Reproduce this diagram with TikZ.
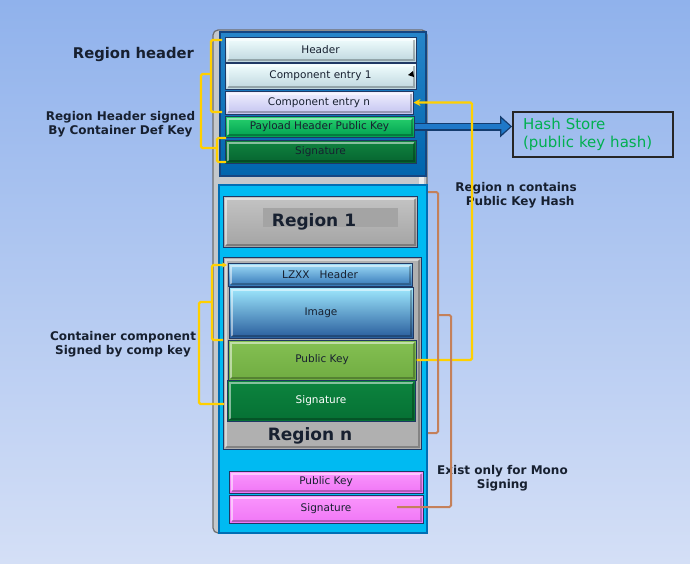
\documentclass[tikz,border=0pt]{standalone}
\usepackage{fontspec}
\setmainfont{DejaVu Sans}
\usetikzlibrary{arrows.meta}
\definecolor{bgtop}{RGB}{144,178,236}
\definecolor{bgbot}{RGB}{212,223,246}
\definecolor{txt}{RGB}{23,32,48}
\definecolor{yel}{RGB}{255,208,0}
\definecolor{brn}{RGB}{196,128,90}
\definecolor{hashgreen}{RGB}{0,176,80}
\definecolor{hdrblue}{RGB}{0,112,192}
\definecolor{hdrborder}{RGB}{20,70,130}
\definecolor{cyanblk}{RGB}{0,186,242}
\definecolor{cyanborder}{RGB}{0,110,180}
\definecolor{outergrey}{RGB}{196,200,204}
\definecolor{outerborder}{RGB}{110,110,110}
\definecolor{boxborder}{RGB}{31,56,100}
\definecolor{arrowblue}{RGB}{30,120,200}
\definecolor{arrowdark}{RGB}{20,60,110}
\begin{document}
\begin{tikzpicture}[x=1pt,y=-1pt,
  bevel/.style={path picture={
    \draw[white, opacity=0.5, line width=2pt]
      ([shift={(2.5pt,2.5pt)}]path picture bounding box.south west) --
      ([shift={(2.5pt,-2.5pt)}]path picture bounding box.north west) --
      ([shift={(-2.5pt,-2.5pt)}]path picture bounding box.north east);
    \draw[black, opacity=0.25, line width=2pt]
      ([shift={(2.5pt,2.5pt)}]path picture bounding box.south west) --
      ([shift={(-2.5pt,2.5pt)}]path picture bounding box.south east) --
      ([shift={(-2.5pt,-2.5pt)}]path picture bounding box.north east);
  }},
  box/.style={draw=boxborder, line width=1pt, inner sep=0pt, text=txt, bevel,
    font=\fontsize{10.5}{12}\selectfont},
  lbl/.style={text=txt, font=\bfseries\fontsize{12}{14.5}\selectfont, align=center, inner sep=0pt},
  yline/.style={draw=yel, line width=2.2pt, rounded corners=1.5pt},
  bline/.style={draw=brn, line width=2pt, rounded corners=1.5pt}]
\useasboundingbox (0,0) rectangle (690,563);
\fill[top color=bgtop, bottom color=bgbot] (0,0) rectangle (690,563);

% containers
\draw[fill=outergrey, draw=outerborder, line width=1.2pt, rounded corners=5pt] (213,30) rectangle (427,533);
\draw[top color=hdrblue!85!white, bottom color=hdrblue!90!black, draw=hdrborder, line width=1.5pt] (220,32) rectangle (426,176);
\fill[white!85!gray] (419,177) rectangle (424,185);
\draw[fill=cyanblk, draw=cyanborder, line width=1.5pt] (219,185) rectangle (427,533);

% region header rows
\node[box, top color=white!95!cyan, bottom color={rgb,255:red,190;green,214;blue,222}, minimum width=191pt, minimum height=25pt] (hdr) at (320.5,49.5) {Header};
\node[box, top color=white!95!cyan, bottom color={rgb,255:red,190;green,214;blue,222}, minimum width=191pt, minimum height=26pt] (ce1) at (320.5,76) {Component entry 1};
\fill[black] (408,75) -- (413,71) -- (414,77) -- cycle;
\node[box, top color={rgb,255:red,240;green,240;blue,255}, bottom color={rgb,255:red,196;green,196;blue,240}, minimum width=188pt, minimum height=23pt] (cen) at (319,102.5) {Component entry n};
\node[box, top color={rgb,255:red,40;green,210;blue,110}, bottom color={rgb,255:red,0;green,160;blue,80}, minimum width=189pt, minimum height=21pt] (phpk) at (319.5,126.5) {Payload Header Public Key};
\node[box, top color={rgb,255:red,16;green,132;blue,64}, bottom color={rgb,255:red,6;green,100;blue,48}, minimum width=191pt, minimum height=23pt] (hsig) at (320.5,151.5) {Signature};

% region 1
\node[box, top color={rgb,255:red,196;green,196;blue,196}, bottom color={rgb,255:red,164;green,164;blue,164}, minimum width=194pt, minimum height=51pt] (r1) at (320,221.5) {};
\fill[fill={rgb,255:red,164;green,164;blue,164}] (263,208) rectangle (398,227);
\node[text=txt, font=\bfseries\fontsize{17}{20}\selectfont, inner sep=0pt] (r1t) at (314,222) {Region 1};

% region n
\node[box, fill={rgb,255:red,176;green,176;blue,176}, minimum width=198pt, minimum height=192pt] (rn) at (322,353) {};
\node[text=txt, font=\bfseries\fontsize{17}{20}\selectfont, inner sep=0pt] (rnt) at (310,436) {Region n};
\node[box, top color={rgb,255:red,160;green,222;blue,248}, bottom color={rgb,255:red,52;green,118;blue,184}, minimum width=184pt, minimum height=23pt] (lzxx) at (320,274.5) {LZXX\ \ \ Header};
\node[box, top color={rgb,255:red,160;green,234;blue,255}, bottom color={rgb,255:red,40;green,92;blue,156}, minimum width=184pt, minimum height=51pt] (img) at (321,312.5) {Image};
\node[box, top color={rgb,255:red,132;green,192;blue,82}, bottom color={rgb,255:red,112;green,172;blue,66}, minimum width=188pt, minimum height=40pt] (pkn) at (322,360) {Public Key};
\node[box, top color={rgb,255:red,12;green,132;blue,62}, bottom color={rgb,255:red,6;green,112;blue,52}, text=white, minimum width=188pt, minimum height=41pt] (sign) at (321,401) {Signature};

% mono signing
\node[box, top color={rgb,255:red,250;green,150;blue,252}, bottom color={rgb,255:red,240;green,118;blue,246}, minimum width=194pt, minimum height=22pt] (ppk) at (326,482) {Public Key};
\node[box, top color={rgb,255:red,250;green,150;blue,252}, bottom color={rgb,255:red,240;green,118;blue,246}, minimum width=194pt, minimum height=28pt] (psig) at (326,509) {Signature};

% hash store
\node[draw=black!85, line width=1.8pt, minimum width=160pt, minimum height=45pt, text width=140pt, align=left, inner sep=0pt, text=hashgreen, font=\fontsize{15}{18}\selectfont] (hash) at (593,134.5) {Hash Store\\(public key hash)};
\draw[arrowdark, line width=8pt, -{Triangle[length=12pt,width=21pt]}] (phpk.east) -- (hash.west |- phpk.east);
\draw[arrowblue, line width=5pt, shorten >=1.8pt, -{Triangle[length=9pt,width=15pt]}] (phpk.east) -- (hash.west |- phpk.east);

% labels
\node[lbl, font=\bfseries\fontsize{14.75}{17}\selectfont] (lrh) at (133.5,54) {Region header};
\node[lbl] (lrhs) at (120.5,124) {Region Header signed\\By Container Def Key};
\node[lbl] (lcc) at (123,344) {Container component\\Signed by comp key};
\node[lbl] (lrnc) at (516,195) {Region n contains\\\ \ Public Key Hash};
\node[lbl] (lmono) at (502.5,478) {Exist only for Mono\\Signing};

% yellow brackets
\draw[yline] (222,40) -- (211,40) -- (211,112) -- (222,112);
\draw[yline] (211,74) -- (201,74) -- (201,148) -- (217,148);
\draw[yline] (226,138) -- (217,138) -- (217,162) -- (226,162);
\draw[yline, -{Stealth[length=5pt,width=5pt]}] (223,340) -- (212,340) -- (212,265) -- (227,265);
\draw[yline] (212,302) -- (199,302) -- (199,404) -- (224,404);
\draw[yline, -{Stealth[length=7pt,width=7pt]}] (pkn.east) -- (472,360) |- (cen.east);

% brown brackets
\draw[bline] (428,192) -- (438,192) -- (438,433) -- (428,433);
\draw[bline] (438,315) -- (451,315) -- (451,507) -- (397,507);
\end{tikzpicture}
\end{document}
